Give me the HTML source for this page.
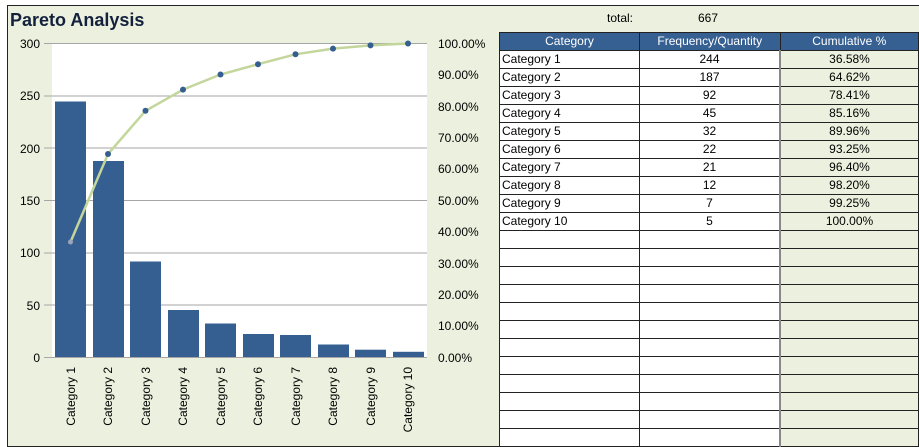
<!DOCTYPE html>
<html><head><style>
body{margin:0;width:919px;height:447px;background:#fff;font-family:"Liberation Sans",sans-serif;position:relative;overflow:hidden}
.frame{position:absolute;left:7px;top:5px;width:911px;height:440px;border:1px solid #222;border-right:none;background:#ebf1de}
table{position:absolute;left:499px;top:32px;border-collapse:collapse;font-size:12px}
td{height:17px;border:1px solid #222;padding:0 2px;line-height:17px}
td.c1{width:135px;background:#fff}
td.c2{width:135px;background:#fff;text-align:center}
td.c3{width:133px;background:#ebf1de;text-align:center;border-left:2px solid #888}
tr.h td{background:#366092;color:#fff;text-align:center;border-color:#222}
</style></head><body>
<div class="frame"></div>
<svg width="919" height="447" style="position:absolute;left:0;top:0">
<text x="10" y="26" font-size="18" font-weight="bold" fill="#14213d">Pareto Analysis</text>
<rect x="52" y="43" width="375" height="314" fill="#fff"/>
<g stroke="#a6a6a6" stroke-width="1">
<line x1="44" y1="43.5" x2="427" y2="43.5"/><line x1="44" y1="96" x2="427" y2="96"/><line x1="44" y1="148" x2="427" y2="148"/><line x1="44" y1="200.5" x2="427" y2="200.5"/><line x1="44" y1="253" x2="427" y2="253"/><line x1="44" y1="305" x2="427" y2="305"/><line x1="44" y1="357.5" x2="427" y2="357.5"/>
</g>
<g font-size="12" fill="#000" text-anchor="end">
<text x="40" y="48">300</text><text x="40" y="100">250</text><text x="40" y="153">200</text><text x="40" y="205">150</text><text x="40" y="257">100</text><text x="40" y="310">50</text><text x="40" y="362">0</text>
</g>
<g font-size="12" fill="#000">
<text x="438" y="48">100.00%</text><text x="438" y="79">90.00%</text><text x="438" y="111">80.00%</text><text x="438" y="142">70.00%</text><text x="438" y="173">60.00%</text><text x="438" y="205">50.00%</text><text x="438" y="236">40.00%</text><text x="438" y="268">30.00%</text><text x="438" y="299">20.00%</text><text x="438" y="330">10.00%</text><text x="438" y="362">0.00%</text>
</g>
<g fill="#365f91">
<rect x="55" y="101.5" width="31" height="255.5"/>
<rect x="93" y="161" width="31" height="196"/>
<rect x="130" y="261.5" width="31" height="95.5"/>
<rect x="168" y="310" width="31" height="47"/>
<rect x="205" y="323.5" width="31" height="33.5"/>
<rect x="243" y="334" width="31" height="23"/>
<rect x="280" y="335" width="31" height="22"/>
<rect x="318" y="344.5" width="31" height="12.5"/>
<rect x="355" y="349.7" width="31" height="7.3"/>
<rect x="393" y="351.8" width="31" height="5.2"/>
</g>
<polyline fill="none" stroke="#c3d69b" stroke-width="2.5" points="70.5,242 108,154 145.5,110.8 183,89.6 220.5,74.5 258,64.2 295.5,54.3 333,48.6 370.5,45.4 408,43.5"/>
<g fill="#365f91">
<circle cx="70.5" cy="242" r="2.5" fill="#9aa6b8"/><circle cx="108" cy="154" r="3"/><circle cx="145.5" cy="110.8" r="3"/><circle cx="183" cy="89.6" r="3"/><circle cx="220.5" cy="74.5" r="3"/><circle cx="258" cy="64.2" r="3"/><circle cx="295.5" cy="54.3" r="3"/><circle cx="333" cy="48.6" r="3"/><circle cx="370.5" cy="45.4" r="3"/><circle cx="408" cy="43.5" r="3"/>
</g>
<g font-size="12" fill="#000" text-anchor="end">
<text transform="translate(75,367) rotate(-90)">Category 1</text>
<text transform="translate(112,367) rotate(-90)">Category 2</text>
<text transform="translate(150,367) rotate(-90)">Category 3</text>
<text transform="translate(187,367) rotate(-90)">Category 4</text>
<text transform="translate(225,367) rotate(-90)">Category 5</text>
<text transform="translate(262,367) rotate(-90)">Category 6</text>
<text transform="translate(300,367) rotate(-90)">Category 7</text>
<text transform="translate(337,367) rotate(-90)">Category 8</text>
<text transform="translate(375,367) rotate(-90)">Category 9</text>
<text transform="translate(412,367) rotate(-90)">Category 10</text>
</g>
<text x="607" y="22" font-size="12">total:</text>
<text x="698" y="22" font-size="12">667</text>
</svg>
<table>
<tr class="h"><td>Category</td><td>Frequency/Quantity</td><td>Cumulative %</td></tr>
<tr><td class="c1">Category 1</td><td class="c2">244</td><td class="c3">36.58%</td></tr>
<tr><td class="c1">Category 2</td><td class="c2">187</td><td class="c3">64.62%</td></tr>
<tr><td class="c1">Category 3</td><td class="c2">92</td><td class="c3">78.41%</td></tr>
<tr><td class="c1">Category 4</td><td class="c2">45</td><td class="c3">85.16%</td></tr>
<tr><td class="c1">Category 5</td><td class="c2">32</td><td class="c3">89.96%</td></tr>
<tr><td class="c1">Category 6</td><td class="c2">22</td><td class="c3">93.25%</td></tr>
<tr><td class="c1">Category 7</td><td class="c2">21</td><td class="c3">96.40%</td></tr>
<tr><td class="c1">Category 8</td><td class="c2">12</td><td class="c3">98.20%</td></tr>
<tr><td class="c1">Category 9</td><td class="c2">7</td><td class="c3">99.25%</td></tr>
<tr><td class="c1">Category 10</td><td class="c2">5</td><td class="c3">100.00%</td></tr>
<tr><td class="c1"></td><td class="c2"></td><td class="c3"></td></tr>
<tr><td class="c1"></td><td class="c2"></td><td class="c3"></td></tr>
<tr><td class="c1"></td><td class="c2"></td><td class="c3"></td></tr>
<tr><td class="c1"></td><td class="c2"></td><td class="c3"></td></tr>
<tr><td class="c1"></td><td class="c2"></td><td class="c3"></td></tr>
<tr><td class="c1"></td><td class="c2"></td><td class="c3"></td></tr>
<tr><td class="c1"></td><td class="c2"></td><td class="c3"></td></tr>
<tr><td class="c1"></td><td class="c2"></td><td class="c3"></td></tr>
<tr><td class="c1"></td><td class="c2"></td><td class="c3"></td></tr>
<tr><td class="c1"></td><td class="c2"></td><td class="c3"></td></tr>
<tr><td class="c1"></td><td class="c2"></td><td class="c3"></td></tr>
<tr><td class="c1"></td><td class="c2"></td><td class="c3"></td></tr>
</table>
</body></html>
